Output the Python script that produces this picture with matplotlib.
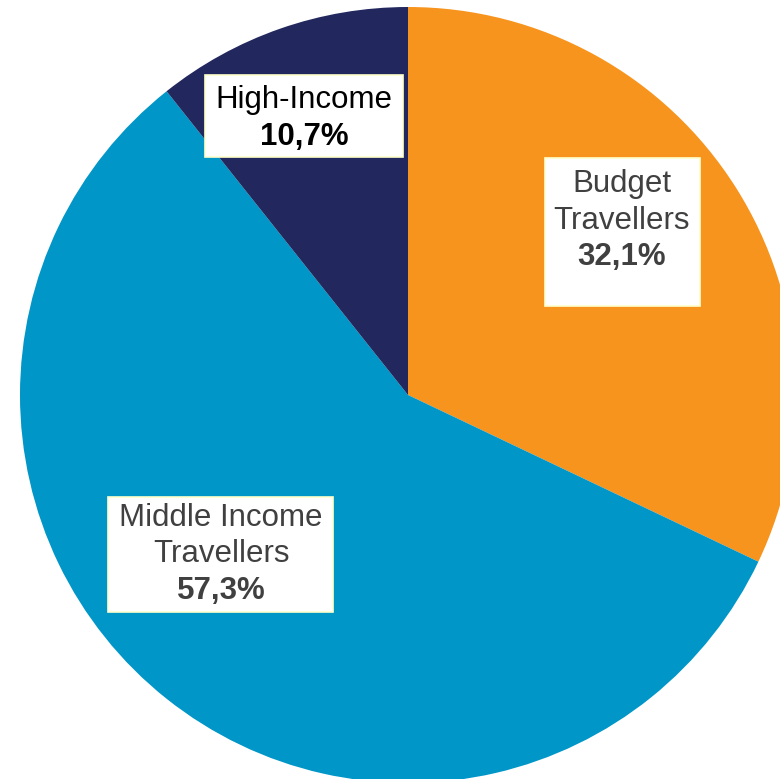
import matplotlib
matplotlib.use("Agg")
import matplotlib.pyplot as plt
from matplotlib.patches import Rectangle

plt.rcParams["font.family"] = ["Liberation Sans", "DejaVu Sans"]

segments = ["Budget\nTravellers", "Middle Income\nTravellers", "High-Income"]
shares = [32.1, 57.3, 10.7]
colors = ["#F7941E", "#0096C8", "#22285E"]
text_colors = ["#404040", "#404040", "#000000"]

# label boxes in pixel space: (left, top, width, height), first-line centre (x, y)
boxes = [(545, 158, 155, 148), (108, 497, 225, 115), (205, 75, 198, 82)]
text_pos = [(622, 184), (221, 518), (304, 100)]
line_step = 36.5

W, H = 780, 779
fig = plt.figure(figsize=(W / 100, H / 100), dpi=100)
ax = fig.add_axes([0, 0, 1, 1])

ax.pie(shares, colors=colors, startangle=-90, counterclock=True,
       center=(408, 395), radius=388, frame=True,
       wedgeprops=dict(linewidth=0))
ax.set_xlim(0, W)
ax.set_ylim(H, 0)
ax.set_aspect("equal")
ax.axis("off")

for name, val, (bx, by, bw, bh), (tx, ty), tc in zip(segments, shares, boxes, text_pos, text_colors):
    ax.add_patch(Rectangle((bx, by), bw, bh, facecolor="white",
                           edgecolor="#FFFFCC", linewidth=1.2, zorder=3))
    lines = name.split("\n")
    for i, line in enumerate(lines):
        ax.text(tx, ty + i * line_step, line, ha="center", va="center",
                fontsize=22.5, color=tc, zorder=4)
    ax.text(tx, ty + len(lines) * line_step, f"{val:.1f}%".replace(".", ","),
            ha="center", va="center", fontsize=22.5, fontweight="bold",
            color=tc, zorder=4)

fig.savefig("out.png", dpi=100)
